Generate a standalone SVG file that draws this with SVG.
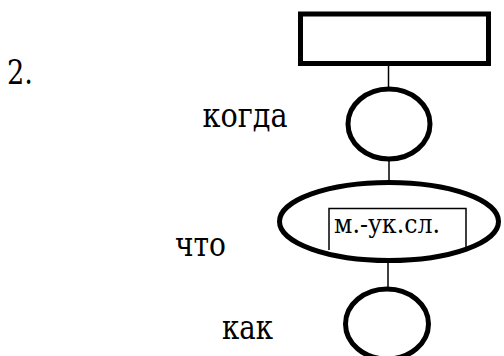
<svg xmlns="http://www.w3.org/2000/svg" width="504" height="356" viewBox="0 0 504 356">
<style>
.n{fill:#fff;stroke:#000;stroke-width:5}
.c{stroke:#000;stroke-width:1.5;fill:none}
text{font-family:'DejaVu Serif',serif;fill:#000}
.t{font-size:34px}
.s{font-size:26px}
</style>
<rect width="504" height="356" fill="#fff"/>
<text class="t" x="7" y="84" textLength="26" lengthAdjust="spacingAndGlyphs">2.</text>
<g id="connectors">
<line class="c" x1="388.5" y1="66" x2="388.5" y2="88"/>
<line class="c" x1="389" y1="160" x2="389" y2="182"/>
<line class="c" x1="388" y1="261" x2="388" y2="289"/>
</g>
<g id="top-box"><rect class="n" x="300.5" y="14" width="188" height="49.5"/></g>
<g id="when"><ellipse class="n" cx="389" cy="124" rx="41" ry="35"/><text class="t" x="202.5" y="127" textLength="85" lengthAdjust="spacingAndGlyphs">когда</text></g>
<g id="what"><ellipse class="n" cx="389" cy="221.5" rx="109.5" ry="39"/><polyline class="c" points="329,250 329,208.5 466,208.5 466,250"/><text class="s" x="334" y="233" textLength="106" lengthAdjust="spacingAndGlyphs">м.-ук.сл.</text><text class="t" x="175" y="256" textLength="51" lengthAdjust="spacingAndGlyphs">что</text></g>
<g id="how"><ellipse class="n" cx="387" cy="324" rx="41.5" ry="35"/><text class="t" x="222" y="339" textLength="51" lengthAdjust="spacingAndGlyphs">как</text></g>
</svg>
